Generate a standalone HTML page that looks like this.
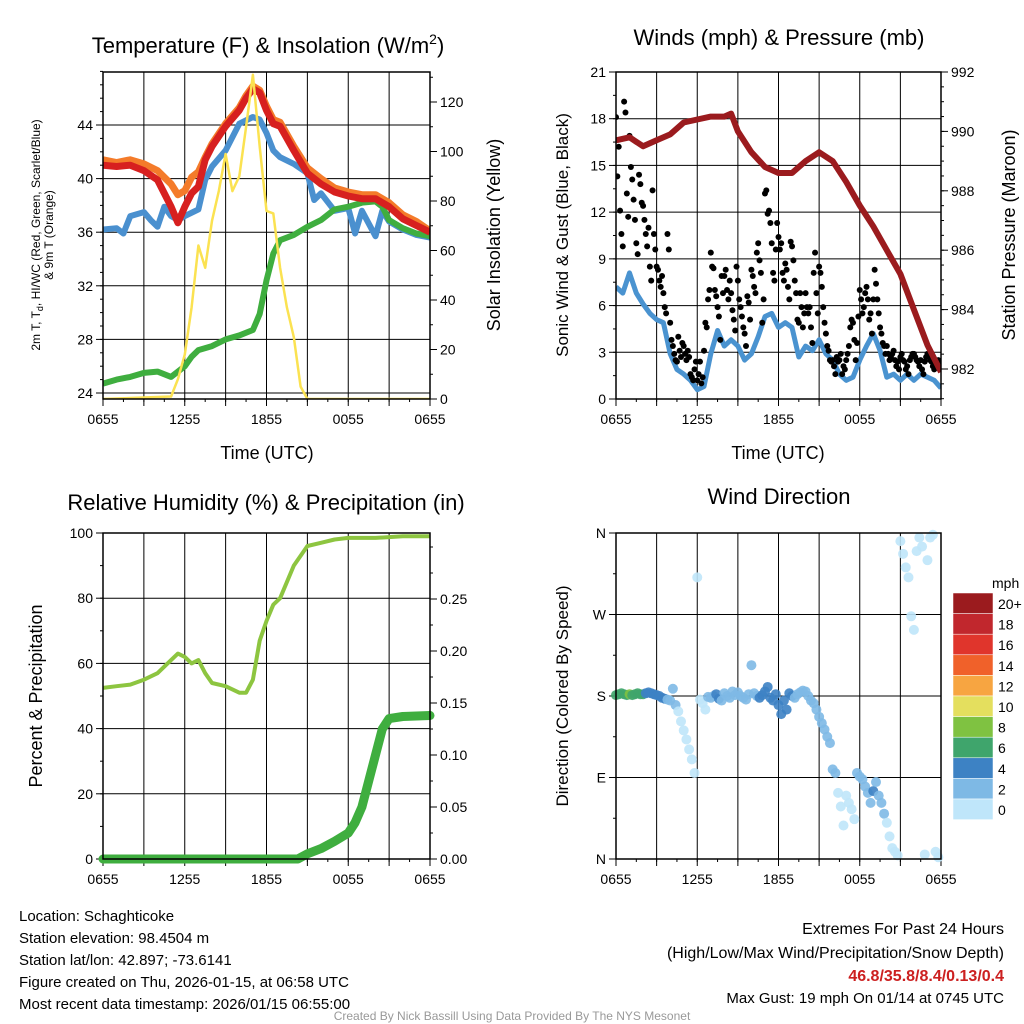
<!DOCTYPE html>
<html><head><meta charset="utf-8"><style>
body{margin:0;background:#fff}
svg{display:block;font-family:"Liberation Sans",sans-serif}
</style></head><body>
<svg id="c" width="1024" height="1024" xmlns="http://www.w3.org/2000/svg"></svg>
<script>
// ---------- data ----------
const hoursTickLabels=["0655","1255","1855","0055","0655"];
const hoursTickAt=[0,6,12,18,24];
const tempHours=[0,1,2,3,4,5,5.5,6,6.5,7,7.5,8,9,10,10.5,11,11.5,12,12.5,13,14,15,16,17,18,19,20,21,22,23,24];
const tempRed=[41.0,40.9,41.0,40.6,39.9,37.9,36.7,37.9,38.9,39.4,41.4,42.4,43.9,45.1,46.0,46.7,46.4,45.1,44.1,43.9,42.1,40.4,39.6,39.0,38.7,38.5,38.5,37.9,37.0,36.5,36.0];
const tempOrange=[41.4,41.2,41.4,41.1,40.6,39.6,38.8,39.1,40.1,40.5,41.6,42.6,44.1,45.3,46.2,46.9,46.6,45.4,44.4,44.2,42.4,40.8,40.0,39.3,39.0,38.8,38.8,38.2,37.3,36.8,36.1];
const dewHours=[0,1,1.5,2,3,3.5,4,4.5,5,5.5,6,7,7.5,8,9,10,11,11.5,12,12.5,13,14,15,15.5,16,17,18,18.5,19,20,20.5,21,22,23,24];
const dewBlue=[36.2,36.3,35.9,37.2,37.5,36.9,36.4,37.9,37.2,36.9,37.2,37.7,39.9,40.9,42.1,44.1,44.6,44.4,43.4,42.1,41.6,41.1,40.4,38.4,38.9,37.6,37.8,35.9,37.6,35.7,37.6,36.8,36.2,35.8,35.6];
const greenHours=[0,1,2,3,4,5,6,6.5,7,8,9,10,11,11.5,12,12.5,13,14,15,16,17,18,19,20,20.5,21,22,23,24];
const greenT=[24.7,25.0,25.2,25.5,25.6,25.2,26.0,26.7,27.2,27.5,28.0,28.3,28.7,29.9,32.4,34.4,35.4,35.8,36.4,36.9,37.7,37.9,38.2,38.3,37.9,36.9,36.3,35.9,35.7];
const solarHours=[0,5,5.5,6,6.5,7,7.5,8,8.5,9,9.5,10,10.5,11,11.5,12,12.5,13,13.5,14,14.5,15,24];
const solar=[0,1,8,18,37,62,53,72,84,99,84,90,110,131,102,76,75,53,37,25,5,0,0];
const pressHours=[0,1,2,3,4,5,6,7,8,8.5,9,10,11,12,13,14,15,16,17,18,19,20,21,22,23,24];
const pressure=[989.7,989.8,989.5,989.7,989.9,990.3,990.4,990.5,990.5,990.6,990.0,989.3,988.8,988.6,988.6,989.0,989.3,989.0,988.3,987.5,986.8,986.0,985.2,984.0,982.8,981.9];
const windSpeed=[7.2,6.8,8.1,6.8,6.1,5.5,5.1,4.9,2.9,1.9,1.6,1.2,0.6,0.8,2.9,4.4,3.4,3.8,3.4,2.5,2.9,4.0,5.3,5.5,4.6,4.9,4.6,2.7,3.4,3.1,3.8,2.9,2.5,1.6,1.2,1.4,2.5,3.4,4.2,3.1,1.4,1.6,1.2,1.6,1.2,1.6,1.4,1.2,0.7]; // every 0.5h
const gusts=[18.1,14.3,16.2,12.1,10.6,9.8,19.1,18.4,13.2,11.7,
16.9,14.9,14.1,12.8,11.5,10,9.3,14.4,13.8,12.6,
12.4,11.5,10.6,9.8,11,8.5,7.6,13.4,10.6,9.6,
8.5,8.3,7.6,7.2,7.9,6.8,5.9,5.5,10.6,9.6,
4.9,3.8,3.4,2.9,2.5,2.4,4,3.1,2.7,3.6,
3.4,2.9,2.5,3.1,2.7,1.6,1.4,1.2,1.9,2.4,
1.2,1.6,2.4,1,1.4,3.1,4.9,4.6,6.4,7,
9.4,8.5,8.4,7,6.6,5.9,5.3,3.8,7.9,6.8,
7.9,8.3,7,6.4,7.6,6.8,5.7,5.1,4.4,8.5,
7.6,6.4,5.9,5.3,4.6,4.2,3.4,6.6,6.2,5.1,
8.3,7.9,7.2,6.8,9.4,10,8.9,8.1,4.9,6.4,
13.2,13.4,11.9,12.1,11.3,10,8.1,7.6,9.6,11.3,
10.4,9.6,10,8.1,7.6,8.7,8.3,7.2,6.4,10.1,
9.8,8.9,7.6,6.8,5.1,4.9,6.8,5.9,4.6,5.5,
6.8,5.9,5.5,5.9,4.6,3.6,8.1,9.4,6.8,5.5,
8.5,8.1,7.2,5.9,4.9,4.2,3.4,3.1,2.5,2.4,
2.5,2.1,1.6,2.7,2.4,2.5,2.9,1.6,2.1,1.9,
2.5,2.9,3.4,4.6,5.1,4.9,3.8,2.5,3.6,5.3,
7,6.4,5.5,5.9,6.8,7.2,6.4,5.1,5.5,4.2,
6.4,8.3,7.4,6.4,5.5,4.6,4.2,3.6,3.4,2.9,
3.4,2.9,2.5,2.7,2.9,3.1,2.5,2.1,2.4,1.9,
2.7,2.9,2.5,2.4,1.9,2.1,1.6,2.5,2.7,2.9,
2.9,2.7,2.5,2.4,2.1,2.5,1.9,1.6,2.4,2.7,
2.9,2.7,2.5,2.4,2.1,1.9,2.4,2.1,2.5,2.4]; // every 0.1h
const rhHours=[0,1,2,3,4,5,5.5,6,6.5,7,7.5,8,9,10,10.5,11,11.5,12,12.5,13,14,15,16,17,18,20,22,24];
const rh=[52.5,53,53.5,55,57,61,63,62,60,61,57,54,53,51,51,55,67,73,78,80,90,96,97,98,98.5,98.5,99,99];
const precipHours=[0,14.3,15,16,17,18,18.5,19,19.5,20,20.5,21,22,24];
const precip=[0,0,0.005,0.01,0.017,0.025,0.035,0.05,0.075,0.1,0.125,0.135,0.137,0.138];
const windDir=[181,182,183,182,181,182,181,182,183,182,182,183,184,183,182,181,180,178,177,176,
175,188,170,163,152,142,132,121,110,95,311,176,172,165,179,178,180,182,177,175,
183,180,178,185,181,184,180,178,176,182,214,183,180,178,181,185,190,178,175,182,
170,160,175,165,183,180,178,182,184,186,185,180,175,172,165,157,150,143,135,128,
99,95,73,58,37,70,62,55,44,95,91,88,80,73,62,75,85,70,62,50,
40,25,12,8,4,351,337,322,311,268,253,340,355,345,5,330,355,358,8,2]; // every 0.2h
const cbarLabels=["20+","18","16","14","12","10","8","6","4","2","0"];
const cbarColors=["#9b1b1e","#c1272d","#e0352c","#f0612a","#f7a541","#e4df5e","#7fc241","#3fa56c","#3d82c4","#7eb9e5","#bfe6fa"];

// ---------- helpers ----------
const NS="http://www.w3.org/2000/svg";
const svg=document.getElementById('c');
function el(tag,attrs,parent){const e=document.createElementNS(NS,tag);for(const k in attrs)e.setAttribute(k,attrs[k]);(parent||svg).appendChild(e);return e;}
function txt(s,x,y,size,anchor,parent,extra){const t=el('text',Object.assign({x:x,y:y,'font-size':size,'text-anchor':anchor||'middle',fill:'#000'},extra||{}),parent);t.textContent=s;return t;}
function lin(d0,d1,r0,r1){return v=>r0+(v-d0)/(d1-d0)*(r1-r0);}
function path(xs,ys,fx,fy){return xs.map((x,i)=>(i?'L':'M')+fx(x).toFixed(1)+','+fy(ys[i]).toFixed(1)).join('');}
function interp(xs,ys,h){for(let i=1;i<xs.length;i++){if(h<=xs[i]){const t=(h-xs[i-1])/(xs[i]-xs[i-1]);return ys[i-1]+t*(ys[i]-ys[i-1]);}}return ys[ys.length-1];}

function panel(name,L,R,T,B){
  const g=el('g',{},svg);
  
  
  const fx=lin(0,24,L,R);
  for(let h=3;h<24;h+=3){el('line',{x1:fx(h),x2:fx(h),y1:T,y2:B,stroke:'#000','stroke-width':1},g);}
  for(let h=0;h<=24;h+=3){el('line',{x1:fx(h),x2:fx(h),y1:B,y2:B+7,stroke:'#000','stroke-width':1},g);}
  for(let h=0;h<=24;h+=1.5){el('line',{x1:fx(h),x2:fx(h),y1:B,y2:B+3,stroke:'#000','stroke-width':1},g);}
  hoursTickLabels.forEach((s,i)=>{const t=txt(s,fx(hoursTickAt[i]),B+25,14,'middle',g);});
  return {g,fx};
}
function frame(g,L,R,T,B){el('rect',{x:L,y:T,width:R-L,height:B-T,fill:'none',stroke:'#000','stroke-width':1.5},g);}
function yAxis(g,vals,fy,x,side,labels,L,R,grid){
  vals.forEach((v,i)=>{
    const y=fy(v);
    if(grid) el('line',{x1:L,x2:R,y1:y,y2:y,stroke:'#000','stroke-width':1},g);
    el('line',{x1:x,x2:x+(side<0?-7:7),y1:y,y2:y,stroke:'#000','stroke-width':1},g);
    const t=txt(labels?labels[i]:String(v),x+(side<0?-10:10),y+5,14,side<0?'end':'start',g);
    
  });
}
function minor(g,a,b,step,fy,x,side){for(let v=a;v<=b+1e-9;v+=step){const y=fy(v);el('line',{x1:x,x2:x+(side<0?-3:3),y1:y,y2:y,stroke:'#000','stroke-width':1},g);}}

// ---------- Panel 1: temperature ----------
{
 const L=103,R=430,T=72,B=399;
 const p=panel('temperature-panel',L,R,T,B);const g=p.g,fx=p.fx;
 const fy=lin(24,44,393,125), fs=lin(0,120,399,102);
 yAxis(g,[24,28,32,36,40,44],fy,L,-1,null,L,R,true);
 minor(g,24,48,1,fy,L,-1);
 yAxis(g,[0,20,40,60,80,100,120],fs,R,1,null,L,R,false);
 minor(g,0,130,10,fs,R,1);
 const cp=el('clipPath',{id:'cp1'},g);el('rect',{x:L,y:T,width:R-L,height:B-T},cp);
 const d=el('g',{'clip-path':'url(#cp1)'},g);
 let e;
 e=el('path',{d:path(dewHours,dewBlue,fx,fy),fill:'none',stroke:'#4a90cf','stroke-width':6,'stroke-linejoin':'round'},d);
 e=el('path',{d:path(greenHours,greenT,fx,fy),fill:'none',stroke:'#3fae3f','stroke-width':6,'stroke-linejoin':'round'},d);
 e=el('path',{d:path(tempHours,tempOrange,fx,fy),fill:'none',stroke:'#f47b2a','stroke-width':7,'stroke-linejoin':'round'},d);
 e=el('path',{d:path(tempHours,tempRed,fx,fy),fill:'none',stroke:'#d7201f','stroke-width':7,'stroke-linejoin':'round'},d);
 e=el('path',{d:path(solarHours,solar,fx,fs),fill:'none',stroke:'#fbe251','stroke-width':2.5,'stroke-linejoin':'round'},d);
 frame(g,L,R,T,B);
 const tt=el('text',{x:268,y:53,'font-size':22,'text-anchor':'middle'},g);tt.innerHTML='Temperature (F) &amp; Insolation (W/m<tspan dy="-9" font-size="14">2</tspan><tspan dy="9">)</tspan>';
 
 e=txt('Time (UTC)',267,459,18,'middle',g);
 const yl=el('text',{transform:'translate(40,235) rotate(-90)','font-size':12,'text-anchor':'middle'},g);
 yl.innerHTML='<tspan x="0" dy="0">2m T, T<tspan font-size="9" dy="3">d</tspan><tspan dy="-3">, HI/WC (Red, Green, Scarlet/Blue)</tspan></tspan><tspan x="0" dy="13">&amp; 9m T (Orange)</tspan>';
 
 e=txt('Solar Insolation (Yellow)',0,0,18,'middle',g,{transform:'translate(500,235) rotate(-90)'});
}

// ---------- Panel 2: winds ----------
{
 const L=616,R=941,T=72,B=399;
 const p=panel('winds-panel',L,R,T,B);const g=p.g,fx=p.fx;
 const fy=lin(0,21,399,72), fp=lin(982,992,369,72);
 yAxis(g,[0,3,6,9,12,15,18,21],fy,L,-1,null,L,R,true);
 minor(g,0,21,1.5,fy,L,-1);
 yAxis(g,[982,984,986,988,990,992],fp,R,1,null,L,R,false);
 minor(g,981,992,0.5,fp,R,1);
 const cp=el('clipPath',{id:'cp2'},g);el('rect',{x:L,y:T,width:R-L,height:B-T+4},cp);
 const d=el('g',{'clip-path':'url(#cp2)'},g);
 const wh=windSpeed.map((v,i)=>i*0.5);
 let e=el('path',{d:path(wh,windSpeed,fx,fy),fill:'none',stroke:'#4a93d0','stroke-width':5,'stroke-linejoin':'round'},d);
 
 gusts.forEach((v,i)=>{const c=el('circle',{cx:fx(i*0.1),cy:fy(v),r:3,fill:'#000'},d);
  
  });
 e=el('path',{d:path(pressHours,pressure,fx,fp),fill:'none',stroke:'#9b1b1e','stroke-width':6,'stroke-linejoin':'round'},d);
 
 frame(g,L,R,T,B);
 e=txt('Winds (mph) & Pressure (mb)',779,45,22,'middle',g);
 e=txt('Time (UTC)',778,459,18,'middle',g);
 e=txt('Sonic Wind & Gust (Blue, Black)',0,0,17,'middle',g,{transform:'translate(568,235) rotate(-90)'});
 e=txt('Station Pressure (Maroon)',0,0,18,'middle',g,{transform:'translate(1015,235) rotate(-90)'});
}

// ---------- Panel 3: RH & precip ----------
{
 const L=103,R=430,T=533,B=859;
 const p=panel('humidity-panel',L,R,T,B);const g=p.g,fx=p.fx;
 const fy=lin(0,100,859,533), fr=lin(0,0.25,859,599);
 yAxis(g,[0,20,40,60,80,100],fy,L,-1,null,L,R,true);
 minor(g,0,100,10,fy,L,-1);
 yAxis(g,[0,0.05,0.1,0.15,0.2,0.25],fr,R,1,['0.00','0.05','0.10','0.15','0.20','0.25'],L,R,false);
 minor(g,0,0.31,0.025,fr,R,1);
 let e=el('path',{d:path(rhHours,rh,fx,fy),fill:'none',stroke:'#8dc540','stroke-width':4,'stroke-linejoin':'round'},g);
 
 e=el('path',{d:path(precipHours,precip,fx,fr),fill:'none',stroke:'#3fae3f','stroke-width':9,'stroke-linejoin':'round','stroke-linecap':'round'},g);
 
 frame(g,L,R,T,B);
 e=txt('Relative Humidity (%) & Precipitation (in)',266,510,22,'middle',g);
 e=txt('Percent & Precipitation',0,0,18,'middle',g,{transform:'translate(42,696) rotate(-90)'});
}

// ---------- Panel 4: wind direction ----------
{
 const L=616,R=941,T=533,B=859;
 const p=panel('wind-direction-panel',L,R,T,B);const g=p.g,fx=p.fx;
 const fy=lin(0,360,859,533);
 yAxis(g,[0,90,180,270,360],fy,L,-1,['N','E','S','W','N'],L,R,true);
 minor(g,0,360,45,fy,L,-1);
 const wh=windSpeed.map((v,i)=>i*0.5);
 const cp=el('clipPath',{id:'cp4'},g);el('rect',{x:L-5,y:T-5,width:R-L+10,height:B-T+10},cp);
 const d=el('g',{'clip-path':'url(#cp4)'},g);
 windDir.forEach((v,i)=>{const h=i*0.2;const s=interp(wh,windSpeed,h);
  const idx=Math.max(0,Math.min(10,10-Math.floor(s/2)));
  const c=el('circle',{cx:fx(h),cy:fy(v),r:5,fill:cbarColors[idx],'fill-opacity':0.9},d);
  
  });
 frame(g,L,R,T,B);
 let e=txt('Wind Direction',779,504,22,'middle',g);
 e=txt('Direction (Colored By Speed)',0,0,17,'middle',g,{transform:'translate(568,696) rotate(-90)'});
 const cb=el('g',{},svg);
 const h0=20.6;
 cbarColors.forEach((c,i)=>{el('rect',{x:953,y:593+i*h0,width:40,height:h0,fill:c,stroke:'#fff','stroke-width':0.5},cb);
   const t=txt(cbarLabels[i],998,593+i*h0+16,14,'start',cb);});
 e=txt('mph',992,588,14,'start',cb);
}

// ---------- footer ----------
{
 const f=el('g',{},svg);
 ["Location: Schaghticoke","Station elevation: 98.4504 m","Station lat/lon: 42.897; -73.6141","Figure created on Thu, 2026-01-15, at 06:58 UTC","Most recent data timestamp: 2026/01/15 06:55:00"].forEach((s,i)=>txt(s,19,921+i*22,15,'start',f));
 const r=el('g',{},svg);
 txt('Extremes For Past 24 Hours',1004,934,16,'end',r);
 txt('(High/Low/Max Wind/Precipitation/Snow Depth)',1004,958,16,'end',r);
 txt('46.8/35.8/8.4/0.13/0.4',1004,981,16,'end',r,{fill:'#cc2020','font-weight':'bold'});
 txt('Max Gust: 19 mph On 01/14 at 0745 UTC',1004,1003,15,'end',r);
 const c=txt('Created By Nick Bassill Using Data Provided By The NYS Mesonet',512,1020,12,'middle',svg,{fill:'#999'});
 
}
</script>
</body></html>
